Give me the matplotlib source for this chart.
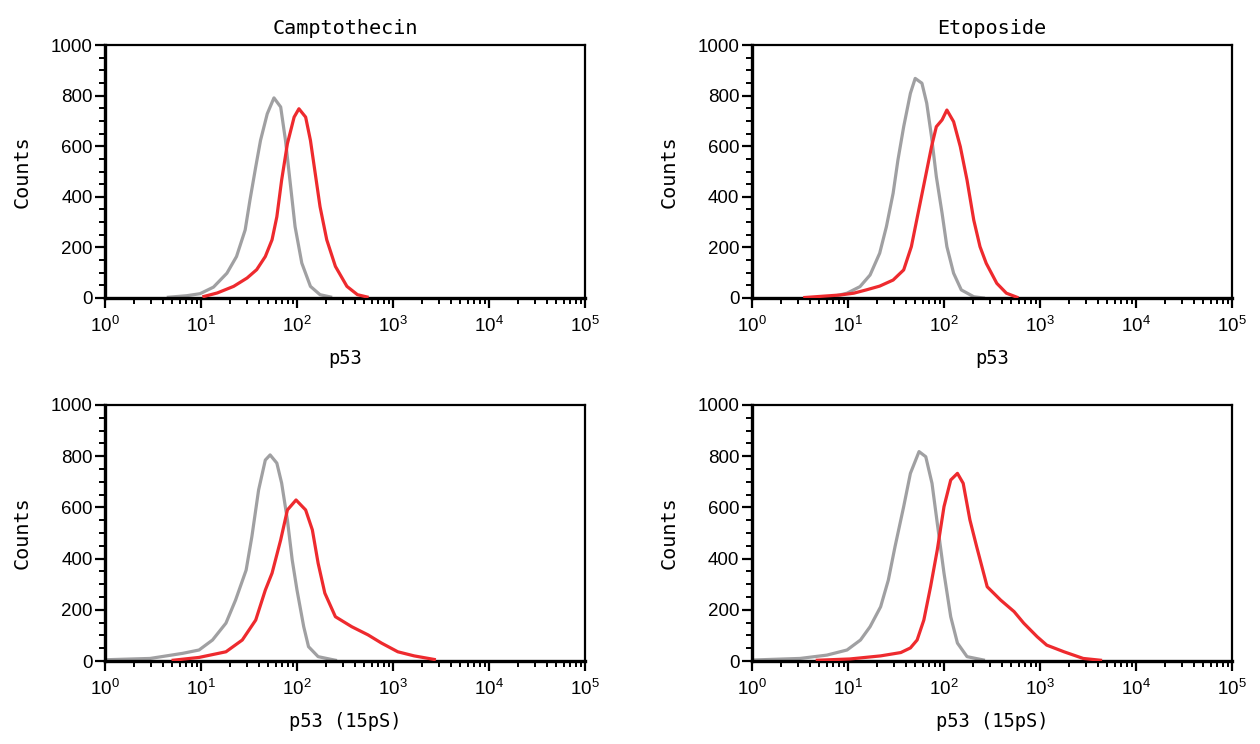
import numpy as np
import matplotlib
matplotlib.use("Agg")
import matplotlib.pyplot as plt
from matplotlib.ticker import LogLocator, MultipleLocator

plt.rcParams['font.family'] = ['Liberation Sans', 'DejaVu Sans']

# log10 of fluorescence intensity, and counts
# Camptothecin / p53
cpt_p53_gray_log = [0.66, 0.85, 0.99, 1.13, 1.27, 1.37, 1.46, 1.51, 1.57, 1.62, 1.69, 1.76, 1.83, 1.88, 1.93, 1.98, 2.05, 2.14, 2.24, 2.35]
cpt_p53_gray_cnt = [3, 9, 17, 43, 98, 164, 269, 387, 518, 623, 728, 791, 755, 623, 453, 282, 138, 46, 13, 4]
cpt_p53_red_log = [1.03, 1.17, 1.34, 1.48, 1.58, 1.67, 1.74, 1.79, 1.84, 1.90, 1.97, 2.02, 2.09, 2.14, 2.19, 2.24, 2.31, 2.40, 2.52, 2.63, 2.73]
cpt_p53_red_cnt = [6, 20, 46, 79, 112, 164, 230, 321, 466, 610, 715, 748, 715, 623, 492, 361, 230, 125, 46, 13, 4]

# Etoposide / p53
eto_p53_gray_log = [0.57, 0.81, 0.99, 1.125, 1.23, 1.33, 1.40, 1.47, 1.52, 1.58, 1.65, 1.70, 1.77, 1.82, 1.87, 1.92, 1.98, 2.03, 2.10, 2.18, 2.31, 2.41]
eto_p53_gray_cnt = [0, 3, 19, 45, 91, 177, 282, 414, 545, 677, 809, 868, 849, 770, 638, 480, 335, 203, 98, 32, 5, 0]
eto_p53_red_log = [0.55, 0.92, 1.06, 1.19, 1.33, 1.47, 1.58, 1.66, 1.73, 1.80, 1.87, 1.92, 1.98, 2.03, 2.10, 2.17, 2.24, 2.31, 2.375, 2.44, 2.55, 2.65, 2.76]
eto_p53_red_cnt = [2, 12, 19, 32, 47, 71, 111, 203, 335, 466, 598, 677, 704, 743, 697, 598, 466, 308, 203, 137, 58, 19, 3]

# Camptothecin / p53 (15pS)
cpt_ps_gray_log = [0.02, 0.47, 0.81, 0.98, 1.12, 1.26, 1.36, 1.47, 1.53, 1.60, 1.67, 1.72, 1.79, 1.84, 1.90, 1.95, 2.00, 2.07, 2.12, 2.22, 2.36, 2.40]
cpt_ps_gray_cnt = [5, 10, 30, 43, 82, 148, 238, 355, 486, 668, 785, 805, 773, 695, 551, 395, 277, 134, 56, 17, 6, 3]
cpt_ps_red_log = [0.71, 0.98, 1.26, 1.43, 1.57, 1.67, 1.74, 1.83, 1.90, 1.99, 2.09, 2.16, 2.22, 2.29, 2.40, 2.57, 2.74, 2.88, 3.05, 3.22, 3.43]
cpt_ps_red_cnt = [3, 14, 36, 82, 160, 277, 343, 473, 590, 629, 590, 512, 382, 265, 173, 134, 102, 70, 36, 20, 6]

# Etoposide / p53 (15pS)
eto_ps_gray_log = [0.02, 0.50, 0.78, 0.99, 1.13, 1.23, 1.34, 1.42, 1.49, 1.58, 1.65, 1.74, 1.81, 1.875, 1.93, 2.00, 2.07, 2.14, 2.24, 2.41]
eto_ps_gray_cnt = [4, 10, 23, 43, 82, 134, 212, 316, 447, 603, 733, 818, 798, 694, 538, 343, 173, 70, 17, 4]
eto_ps_red_log = [0.68, 1.02, 1.34, 1.55, 1.65, 1.72, 1.79, 1.86, 1.93, 2.00, 2.07, 2.14, 2.20, 2.27, 2.34, 2.45, 2.59, 2.73, 2.83, 2.97, 3.07, 3.25, 3.45, 3.63]
eto_ps_red_cnt = [3, 8, 20, 33, 51, 82, 160, 290, 434, 603, 707, 733, 694, 551, 447, 290, 238, 193, 148, 95, 62, 36, 10, 3]

titles = ["Camptothecin", "Etoposide"]
xlabels = ["p53", "p53 (15pS)"]

GRAY = "#a0a0a2"
RED = "#ee2a2e"
MONO = ['DejaVu Sans Mono']


def style_axes(ax):
    ax.set_xscale('log')
    ax.set_xlim(1, 1e5)
    ax.set_ylim(0, 1000)
    ax.xaxis.set_major_locator(LogLocator(base=10, numticks=10))
    ax.xaxis.set_minor_locator(LogLocator(base=10, subs=np.arange(2, 10), numticks=20))
    ax.yaxis.set_major_locator(MultipleLocator(200))
    ax.yaxis.set_minor_locator(MultipleLocator(50))
    ax.tick_params(which='major', direction='out', length=7, width=1.6, labelsize=13.5, color='black')
    ax.tick_params(which='minor', direction='out', length=4.5, width=1.4, color='black')
    ax.tick_params(axis='x', which='major', pad=6)
    ax.tick_params(axis='y', which='major', pad=2)
    for s in ['left', 'bottom']:
        ax.spines[s].set_linewidth(2.4)
    for s in ['top', 'right']:
        ax.spines[s].set_linewidth(1.6)


def plot_hist(ax, gx, gy, rx, ry):
    ax.plot(10 ** np.array(gx), gy, color=GRAY, lw=2.3, zorder=2)
    ax.plot(10 ** np.array(rx), ry, color=RED, lw=2.3, zorder=3)


fig = plt.figure(figsize=(12.6, 7.44), dpi=100)
W, H = 1260.0, 744.0
lefts = [105, 752]
tops = [45, 405]
heights = [253, 256]
data = [
    [(cpt_p53_gray_log, cpt_p53_gray_cnt, cpt_p53_red_log, cpt_p53_red_cnt),
     (eto_p53_gray_log, eto_p53_gray_cnt, eto_p53_red_log, eto_p53_red_cnt)],
    [(cpt_ps_gray_log, cpt_ps_gray_cnt, cpt_ps_red_log, cpt_ps_red_cnt),
     (eto_ps_gray_log, eto_ps_gray_cnt, eto_ps_red_log, eto_ps_red_cnt)],
]

for r in range(2):
    for c in range(2):
        ax = fig.add_axes([lefts[c] / W, 1 - (tops[r] + heights[r]) / H, 480 / W, heights[r] / H])
        style_axes(ax)
        plot_hist(ax, *data[r][c])
        ax.set_ylabel("Counts", family=MONO, fontsize=14.5)
        ax.yaxis.set_label_coords(-0.152, 0.5)
        ax.set_xlabel(xlabels[r], family=MONO, fontsize=13.5)
        ax.xaxis.set_label_coords(0.5, -0.2)
        if r == 0:
            ax.set_title(titles[c], family=MONO, fontsize=14.5, pad=8)

fig.savefig("out.png", dpi=100)
